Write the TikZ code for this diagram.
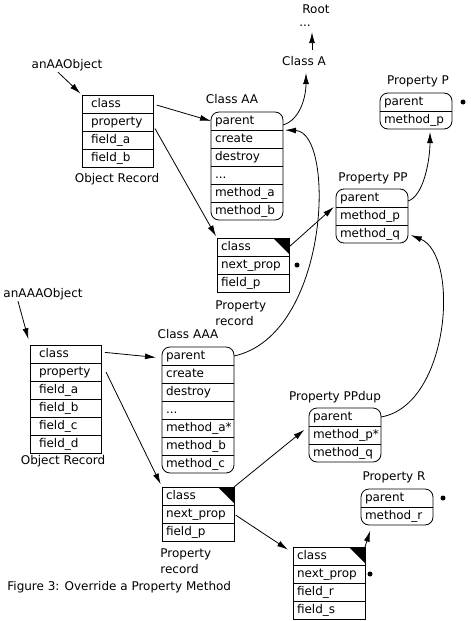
\documentclass[tikz,border=0pt]{standalone}
\usepackage{fontspec}
\setmainfont{DejaVu Sans}
\usepackage{tikz}
\usetikzlibrary{arrows.meta}
\usetikzlibrary{positioning}

\tikzset{
  row/.style={anchor=north west, minimum height=18pt, text height=9pt, text depth=3pt,
    inner ysep=0pt, inner xsep=4pt, outer sep=0pt, align=left, text width=64pt},
  cell/.style={row, draw},
  objcell/.style={cell, inner xsep=9pt, text width=53pt},
  arr/.style={-{Latex[length=11pt,width=6pt]}},
  dot/.style={circle, fill, inner sep=0pt, minimum size=5pt},
  lbl/.style={inner sep=1pt, align=left},
}

\begin{document}
\begin{tikzpicture}[x=1pt, y=1pt, line width=0.8pt, font=\fontsize{12}{16}\selectfont]
    \useasboundingbox (0,0) rectangle (471,-621);

    % Root and Class A
    \node[lbl] (root) at (316,-9) {Root};
    \node[lbl] (up) at (305,-26) {...};
    \node[lbl] (clsA) at (304,-61) {Class A};

    % object record AA
    \node[lbl] (objAA) at (67,-65) {anAAObject};
    \node[objcell] (oa1) at (82,-95) {class};
    \node[objcell, below=0pt of oa1] (oa2) {property};
    \node[objcell, below=0pt of oa2] (oa3) {field\_a};
    \node[objcell, below=0pt of oa3] (oa4) {field\_b};
    \node[lbl] (recAA) at (117,-179) {Object Record};

    % class AA
    \node[lbl] (tAA) at (232,-99) {Class AA};
    \node[row] (ca1) at (211,-112) {parent};
    \node[row, below=0pt of ca1] (ca2) {create};
    \node[row, below=0pt of ca2] (ca3) {destroy};
    \node[row, below=0pt of ca3] (ca4) {...};
    \node[row, below=0pt of ca4] (ca5) {method\_a};
    \node[row, below=0pt of ca5] (ca6) {method\_b};
    \draw[rounded corners=8pt] (ca1.north west) rectangle (ca6.south east);
    \draw (ca1.south west) -- (ca1.south east) (ca2.south west) -- (ca2.south east)
          (ca3.south west) -- (ca3.south east) (ca4.south west) -- (ca4.south east)
          (ca5.south west) -- (ca5.south east);

    % property record of AA
    \node[cell] (pa1) at (217,-238) {class};
    \node[cell, below=0pt of pa1] (pa2) {next\_prop};
    \node[cell, below=0pt of pa2] (pa3) {field\_p};
    \fill (pa1.north east) -- ++(-16,0) -- ++(16,-16) -- cycle;
    \node[dot] (da) at ([xshift=8pt]pa2.east) {};
    \node[lbl, anchor=north west] (recPa) at (214,-299) {Property\\record};

    % Property P
    \node[lbl] (tP) at (418,-81) {Property P};
    \node[row] (pq1) at (380,-93) {parent};
    \node[row, below=0pt of pq1] (pq2) {method\_p};
    \draw[rounded corners=8pt] (pq1.north west) rectangle (pq2.south east);
    \draw (pq1.south west) -- (pq1.south east);
    \node[dot] (dq) at ([xshift=11pt]pq1.east) {};

    % Property PP
    \node[lbl] (tPP) at (373,-178) {Property PP};
    \node[row] (pp1) at (336,-189) {parent};
    \node[row, below=0pt of pp1] (pp2) {method\_p};
    \node[row, below=0pt of pp2] (pp3) {method\_q};
    \draw[rounded corners=8pt] (pp1.north west) rectangle (pp3.south east);
    \draw (pp1.south west) -- (pp1.south east) (pp2.south west) -- (pp2.south east);

    % object record AAA
    \node[lbl] (objAAA) at (43,-294) {anAAAObject};
    \node[objcell] (ob1) at (30,-345) {class};
    \node[objcell, below=0pt of ob1] (ob2) {property};
    \node[objcell, below=0pt of ob2] (ob3) {field\_a};
    \node[objcell, below=0pt of ob3] (ob4) {field\_b};
    \node[objcell, below=0pt of ob4] (ob5) {field\_c};
    \node[objcell, below=0pt of ob5] (ob6) {field\_d};
    \node[lbl] (recAAA) at (63,-461) {Object Record};

    % class AAA
    \node[lbl] (tAAA) at (188,-334) {Class AAA};
    \node[row] (cb1) at (162,-347) {parent};
    \node[row, below=0pt of cb1] (cb2) {create};
    \node[row, below=0pt of cb2] (cb3) {destroy};
    \node[row, below=0pt of cb3] (cb4) {...};
    \node[row, below=0pt of cb4] (cb5) {method\_a*};
    \node[row, below=0pt of cb5] (cb6) {method\_b};
    \node[row, below=0pt of cb6] (cb7) {method\_c};
    \draw[rounded corners=8pt] (cb1.north west) rectangle (cb7.south east);
    \draw (cb1.south west) -- (cb1.south east) (cb2.south west) -- (cb2.south east)
          (cb3.south west) -- (cb3.south east) (cb4.south west) -- (cb4.south east)
          (cb5.south west) -- (cb5.south east) (cb6.south west) -- (cb6.south east);

    % property record of AAA
    \node[cell] (pb1) at (162,-487) {class};
    \node[cell, below=0pt of pb1] (pb2) {next\_prop};
    \node[cell, below=0pt of pb2] (pb3) {field\_p};
    \fill (pb1.north east) -- ++(-16,0) -- ++(16,-16) -- cycle;
    \node[lbl, anchor=north west] (recPb) at (159,-547) {Property\\record};

    % Property PPdup
    \node[lbl] (tPd) at (335,-397) {Property PPdup};
    \node[row] (pd1) at (309,-408) {parent};
    \node[row, below=0pt of pd1] (pd2) {method\_p*};
    \node[row, below=0pt of pd2] (pd3) {method\_q};
    \draw[rounded corners=8pt] (pd1.north west) rectangle (pd3.south east);
    \draw (pd1.south west) -- (pd1.south east) (pd2.south west) -- (pd2.south east);

    % Property R
    \node[lbl] (tR) at (394,-477) {Property R};
    \node[row] (pr1) at (361,-489) {parent};
    \node[row, below=0pt of pr1] (pr2) {method\_r};
    \draw[rounded corners=8pt] (pr1.north west) rectangle (pr2.south east);
    \draw (pr1.south west) -- (pr1.south east);
    \node[dot] (dr) at ([xshift=10pt]pr1.east) {};

    % second property record
    \node[cell] (pc1) at (293,-547) {class};
    \node[cell, below=0pt of pc1] (pc2) {next\_prop};
    \node[cell, below=0pt of pc2] (pc3) {field\_r};
    \node[cell, below=0pt of pc3] (pc4) {field\_s};
    \fill (pc1.north east) -- ++(-16,0) -- ++(16,-16) -- cycle;
    \node[dot] (dc) at ([xshift=5pt]pc2.east) {};

    \node[lbl, anchor=west] (caption) at (6,-587) {Figure 3: Override a Property Method};

    % pointers
    \draw[arr, shorten >=2pt] ([xshift=-9pt]objAA.south) -- (oa1.north west);
    \draw[arr, shorten <=4pt] (oa1.east) -- (ca1.west);
    \draw[arr, shorten <=4pt, shorten >=2pt] ([yshift=-3pt]oa2.east) -- (pa1.north west);
    \draw[arr, shorten >=6pt] ([yshift=-4pt]ca1.east) .. controls +(17,5) and +(0,-30) .. ([xshift=2pt]clsA.south);
    \draw[arr, shorten >=4pt] ([xshift=8pt,yshift=5pt]clsA.north) -- ([xshift=8pt]clsA.north |- up.south);
    \draw[arr, shorten >=3pt] (pa1.east) -- ([yshift=-7pt]pp1.west);
    \draw[arr, shorten >=3pt] ([yshift=-3pt]pp1.east) .. controls +(16,5) and +(0,-30) .. ([xshift=14pt]pq2.south);
    \draw[arr, shorten >=2pt] (cb1.east) .. controls +(96,21) and +(53,-2) .. (ca1.south east);
    \draw[arr, shorten >=3pt] (pd1.east) .. controls +(69,12) and +(52,-21) .. (pp3.east);
    \draw[arr, shorten >=6pt] ([xshift=-25pt]objAAA.south) -- (ob1.north west);
    \draw[arr, shorten <=4pt, shorten >=6pt] ([yshift=2pt]ob1.east) -- ([yshift=-2pt]cb1.west);
    \draw[arr, shorten >=3pt] ([xshift=5pt]ob2.east) -- (pb1.north west);
    \draw[arr, shorten >=6pt] (pb1.north east) -- (pd2.north west);
    \draw[arr, shorten <=2pt, shorten >=6pt] (pb2.east) -- ([yshift=-6pt]pc1.north west);
    \draw[arr, shorten >=6pt] (pc1.north east) -- ([xshift=-25pt]pr2.south);
\end{tikzpicture}
\end{document}
